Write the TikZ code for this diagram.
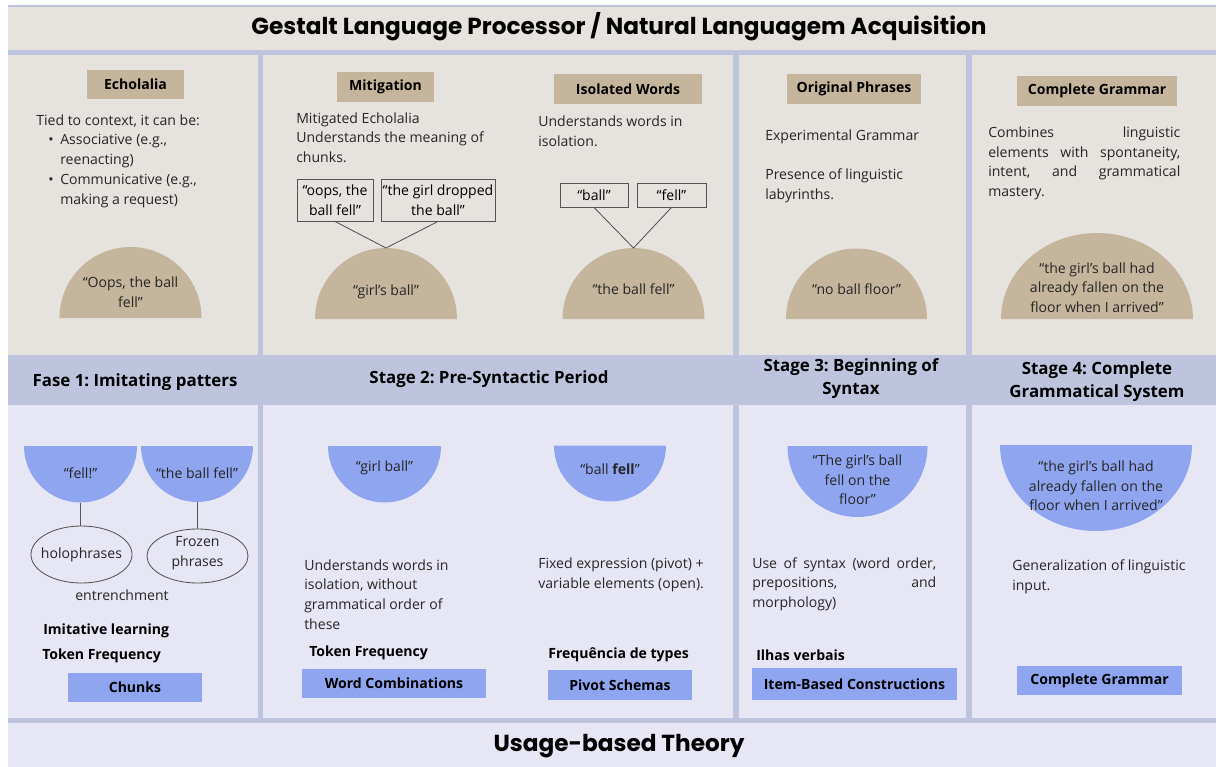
\documentclass[tikz,border=0pt]{standalone}
\usepackage{fontspec}
\setmainfont{Open Sans}
\newfontfamily\headfont{Poppins}
\usepackage{xcolor}
\usetikzlibrary{shapes.geometric}
\frenchspacing

\definecolor{framelav}{HTML}{BEC4DD}
\definecolor{panelbeige}{HTML}{E6E2DE}
\definecolor{panellav}{HTML}{E6E6F4}
\definecolor{sand}{HTML}{C5B59C}
\definecolor{bluefill}{HTML}{8FA5EF}
\definecolor{linegray}{HTML}{555555}

\newcommand{\bodyfont}{\fontsize{10}{14}\selectfont}
\newcommand{\jline}[2]{\makebox[#1][s]{#2}}

\tikzset{
  txt/.style={inner sep=0pt, align=left, font=\bodyfont, text=black!85},
  ctxt/.style={txt, align=center},
  lbl/.style={inner sep=0pt, font=\bodyfont\bfseries},
  tanbox/.style={fill=sand, inner sep=0pt, font=\bodyfont\bfseries},
  bluebox/.style={fill=bluefill, inner sep=0pt, font=\bodyfont\bfseries},
  quotebox/.style={draw=linegray, line width=0.6pt, inner sep=0pt, align=center, font=\bodyfont},
  stagelbl/.style={inner sep=0pt, align=center, font=\fontsize{12}{16.5}\selectfont\bfseries},
  headlbl/.style={inner sep=0pt, font=\headfont\bfseries\fontsize{16.5}{19}\selectfont},
  link/.style={draw=linegray, line width=0.6pt},
}

\begin{document}
\begin{tikzpicture}[x=0.025cm, y=-0.025cm]
  \useasboundingbox (0,0) rectangle (1216,767);

  % frame and panels
  \fill[framelav] (8,5) rectangle (1216,767);
  \fill[panelbeige] (8,7) rectangle (1216,50);
  \fill[panelbeige] (8,55) rectangle (258,355);
  \fill[panelbeige] (263,55) rectangle (733,355);
  \fill[panelbeige] (739,55) rectangle (966,355);
  \fill[panelbeige] (972,55) rectangle (1216,355);
  \fill[panellav] (8,405) rectangle (258,718);
  \fill[panellav] (263,405) rectangle (733,718);
  \fill[panellav] (739,405) rectangle (966,718);
  \fill[panellav] (972,405) rectangle (1216,718);
  \fill[panellav] (8,723) rectangle (1216,767);

  \node[headlbl] (title) at (619,27)
    {Gestalt Language Processor / Natural Languagem Acquisition};
  \node[headlbl] (theory) at (619,746) {Usage-based Theory};

  % top row: gestalt
  \node[tanbox, minimum width=2.425cm, minimum height=0.725cm] (echo) at (135.5,84.5) {Echolalia};
  \node[txt, anchor=west] (echotxt) at (36,161)
    {Tied to context, it can be:\\
     \hspace*{0.3cm}\makebox[0.3cm][l]{•}Associative (e.g.,\\
     \hspace*{0.6cm}reenacting)\\
     \hspace*{0.3cm}\makebox[0.3cm][l]{•}Communicative (e.g.,\\
     \hspace*{0.6cm}making a request)};
  \fill[sand] (59.5,318) arc[start angle=180, end angle=360, radius=71] -- cycle;
  \node[ctxt] (oops) at (130.5,292.5) {“Oops, the ball\\fell”};

  \node[tanbox, minimum width=2.425cm, minimum height=0.75cm] (mitig) at (385.5,87) {Mitigation};
  \node[txt, anchor=west] (mitigtxt) at (296,137.5)
    {Mitigated Echolalia\\Understands the meaning of\\chunks.};
  \node[quotebox, minimum width=1.9cm, minimum height=1.05cm] (oopsq) at (335,200) {“oops, the\\ball fell”};
  \node[quotebox, minimum width=2.85cm, minimum height=1.05cm] (droppedq) at (438,200) {“the girl dropped\\the ball”};
  \fill[sand] (315,319) arc[start angle=180, end angle=360, radius=71] -- cycle;
  \coordinate (girlsballtop) at (386,248);
  \node[ctxt] (girlsball) at (386,292) {“girl's ball”};
  \draw[link] (oopsq.south) -- (girlsballtop) -- (droppedq.south);

  \node[tanbox, minimum width=3.7cm, minimum height=0.75cm] (isol) at (628,89) {Isolated Words};
  \node[txt, anchor=west] (isoltxt) at (538,131.5) {Understands words in\\isolation.};
  \node[quotebox, minimum width=1.7cm, minimum height=0.6cm] (ballq) at (594,195) {“ball”};
  \node[quotebox, minimum width=1.725cm, minimum height=0.6cm] (fellq) at (671.5,195) {“fell”};
  \fill[sand] (562.5,319) arc[start angle=180, end angle=360, radius=71] -- cycle;
  \coordinate (ballfelltop) at (633.5,248);
  \node[ctxt] (ballfell) at (633.5,289) {“the ball fell”};
  \draw[link] (ballq.south) -- (ballfelltop) -- (fellq.south);

  \node[tanbox, minimum width=3.35cm, minimum height=0.75cm] (orig) at (854,89) {Original Phrases};
  \node[txt, anchor=west] (origtxt) at (765,166.5)
    {Experimental Grammar\\[14pt]Presence of linguistic\\labyrinths.};
  \fill[sand] (786,319) arc[start angle=180, end angle=360, radius=70.5] -- cycle;
  \node[ctxt] (noball) at (856.5,289) {“no ball floor”};

  \node[tanbox, minimum width=4cm, minimum height=0.75cm] (compl) at (1097,91) {Complete Grammar};
  \node[txt, anchor=west] (compltxt) at (988,163.5)
    {\jline{4.8cm}{Combines linguistic}\\
     \jline{4.8cm}{elements with spontaneity,}\\
     \jline{4.8cm}{intent, and grammatical}\\
     mastery.};
  \fill[sand] (1001,319) arc[start angle=180, end angle=360, x radius=96, y radius=86] -- cycle;
  \node[ctxt] (arrivedtop) at (1097,287.5)
    {“the girl's ball had\\already fallen on the\\floor when I arrived”};

  % stages
  \node[stagelbl] (stage1) at (135,382) {Fase 1: Imitating patters};
  \node[stagelbl] (stage2) at (489,379) {Stage 2: Pre-Syntactic Period};
  \node[stagelbl] (stage3) at (851,378.5) {Stage 3: Beginning of\\Syntax};
  \node[stagelbl] (stage4) at (1097,381.5) {Stage 4: Complete\\Grammatical System};

  % bottom row: usage-based
  \fill[bluefill] (24,446) arc[start angle=180, end angle=0, radius=56.5] -- cycle;
  \node[ctxt] (fellx) at (80.5,473) {“fell!”};
  \coordinate (fellxbot) at (80.5,502.5);
  \fill[bluefill] (141,446) arc[start angle=180, end angle=0, radius=56] -- cycle;
  \node[ctxt] (theballfell) at (197,473) {“the ball fell”};
  \coordinate (theballfellbot) at (197,502);
  \node[draw=linegray, line width=0.6pt, ellipse, inner sep=0pt,
        minimum width=2.525cm, minimum height=1.425cm] (holo) at (81.5,554.5) {};
  \node[ctxt] (holotxt) at (holo.center) {holophrases};
  \node[draw=linegray, line width=0.6pt, ellipse, inner sep=0pt,
        minimum width=2.525cm, minimum height=1.35cm] (frozen) at (197.5,556) {};
  \node[ctxt] (frozentxt) at (197.5,553.5) {Frozen\\phrases};
  \draw[link] (fellxbot) -- (fellxbot |- holo.north);
  \draw[link] (theballfellbot) -- (theballfellbot |- frozen.north);
  \node[ctxt] (entrench) at (122,595) {entrenchment};
  \node[lbl, anchor=west] (imit) at (43,631) {Imitative learning};
  \node[lbl, anchor=west] (token1) at (42,656) {Token Frequency};
  \node[bluebox, minimum width=3.35cm, minimum height=0.725cm] (chunks) at (135,687.5) {Chunks};

  \fill[bluefill] (328,446) arc[start angle=180, end angle=0, radius=56.5] -- cycle;
  \node[ctxt] (girlball) at (384.5,468) {“girl ball”};
  \node[txt, anchor=west] (wordstxt) at (304,594.5)
    {Understands words in\\isolation, without\\grammatical order of\\these};
  \node[lbl, anchor=west] (token2) at (309,653) {Token Frequency};
  \node[bluebox, minimum width=4.6cm, minimum height=0.725cm] (wordcomb) at (394,683.5) {Word Combinations};

  \fill[bluefill] (554,445.5) arc[start angle=180, end angle=0, radius=56] -- cycle;
  \node[ctxt] (ballfellb) at (610,469) {“ball \textbf{fell}”};
  \node[txt, anchor=west] (pivottxt) at (538,575)
    {Fixed expression (pivot) +\\variable elements (open).};
  \node[lbl, anchor=west] (types) at (548,655) {Frequência de types};
  \node[bluebox, minimum width=3.6cm, minimum height=0.75cm] (pivot) at (620,685) {Pivot Schemas};

  \fill[bluefill] (787.5,446) arc[start angle=180, end angle=0, x radius=70, y radius=71] -- cycle;
  \node[ctxt] (floorb) at (857.5,480) {“The girl's ball\\fell on the\\floor”};
  \node[txt, anchor=west] (syntaxtxt) at (752,584)
    {\jline{4.6cm}{Use of syntax (word order,}\\
     \jline{4.6cm}{prepositions, and}\\
     morphology)};
  \node[lbl, anchor=west] (ilhas) at (756,655) {Ilhas verbais};
  \node[bluebox, minimum width=5.125cm, minimum height=0.8cm] (itembased) at (854.5,684) {Item-Based Constructions};

  \fill[bluefill] (1000,445) arc[start angle=180, end angle=0, x radius=96, y radius=86] -- cycle;
  \node[ctxt] (arrivedb) at (1096,486)
    {“the girl's ball had\\already fallen on the\\floor when I arrived”};
  \node[txt, anchor=west] (generaltxt) at (1012,577)
    {Generalization of linguistic\\input.};
  \node[bluebox, minimum width=4.125cm, minimum height=0.725cm] (compgram) at (1099.5,680.5) {Complete Grammar};
\end{tikzpicture}
\end{document}
